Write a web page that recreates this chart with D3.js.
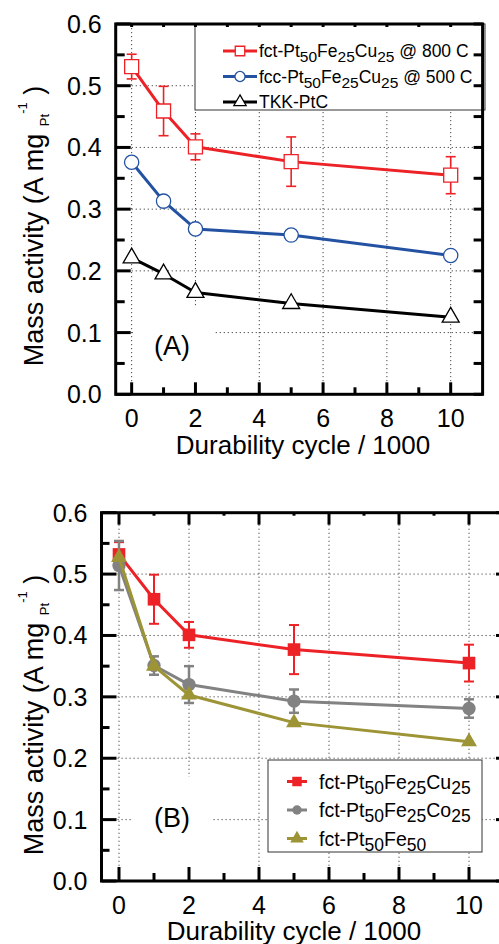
<!DOCTYPE html>
<html>
<head>
<meta charset="utf-8">
<script src="https://cdn.jsdelivr.net/npm/d3@7"></script>
<style>
body { margin: 0; background: #fff; }
svg { display: block; }
text { font-family: "Liberation Sans", Arial, sans-serif; fill: #000; }
</style>
</head>
<body>
<svg id="chart" width="499" height="944"></svg>
<script>
// durability cycles (x 1000)
var cycles = [0, 1, 2, 5, 10];
var xMajor = [0, 2, 4, 6, 8, 10],
    xMinor = [1, 3, 5, 7, 9];
var yMajor = [0, 0.1, 0.2, 0.3, 0.4, 0.5, 0.6],
    yMinor = [0.05, 0.15, 0.25, 0.35, 0.45, 0.55];

// panel A
var fctCu800 = [0.531, 0.459, 0.401, 0.377, 0.355],
    fctCu800Err = [0.020, 0.040, 0.021, 0.040, 0.030];
var fccCu500 = [0.376, 0.313, 0.268, 0.258, 0.225];
var tkkPtC = [0.221, 0.195, 0.165, 0.147, 0.125];

// panel B
var fctCu = [0.532, 0.459, 0.401, 0.377, 0.355],
    fctCuErr = [0.020, 0.040, 0.021, 0.040, 0.030];
var fctCo = [0.514, 0.351, 0.320, 0.293, 0.281],
    fctCoErr = [0.040, 0.015, 0.030, 0.019, 0.015];
var fctFe = [0.527, 0.350, 0.303, 0.258, 0.227];

var RED = '#ec2227', BLUE = '#2452a3', GRAY = '#828282', OLIVE = '#9d9436';

var svg = d3.select('#chart');

// text with _{sub} and ^{sup} pieces
function rich(sel, str, size, small, subDy, supDy) {
    var t = sel.append('text').style('font-size', size + 'px');
    var cur = 0;
    str.split(/(_\{[^}]*\}|\^\{[^}]*\})/).forEach(function (p) {
        if (!p) return;
        var want = 0, fs = size, txt = p;
        if (p[0] === '_') { want = subDy; fs = small; txt = p.slice(2, -1); }
        else if (p[0] === '^') { want = supDy; fs = small; txt = p.slice(2, -1); }
        t.append('tspan').attr('dy', want - cur).style('font-size', fs + 'px').text(txt);
        cur = want;
    });
    return t;
}

function marker(g, type, size, color, open) {
    var sym = {square: d3.symbolSquare, circle: d3.symbolCircle, triangle: d3.symbolTriangle}[type];
    return g.append('path')
        .attr('d', d3.symbol().type(sym).size(size))
        .attr('fill', open ? '#fff' : color)
        .attr('stroke', open ? color : 'none')
        .attr('stroke-width', 1.3);
}

function drawPanel(p) {
    var x = d3.scaleLinear().domain([-0.5, 11]).range([p.left, p.right]);
    var y = d3.scaleLinear().domain([0, 0.6]).range([p.bottom, p.top]);
    var g = svg.append('g');

    // dotted grid
    g.selectAll('.gx').data(xMajor).enter().append('line')
        .attr('x1', x).attr('x2', x).attr('y1', p.top).attr('y2', p.bottom)
        .attr('stroke', '#444').attr('stroke-width', 1).attr('stroke-dasharray', '1.2,2.8');
    g.selectAll('.gy').data(yMajor.slice(1, 6)).enter().append('line')
        .attr('x1', p.left).attr('x2', p.right).attr('y1', y).attr('y2', y)
        .attr('stroke', '#444').attr('stroke-width', 1).attr('stroke-dasharray', '1.2,2.8');

    // white patch behind the panel letter
    g.append('rect').attr('x', p.tagBox[0]).attr('y', p.tagBox[1])
        .attr('width', p.tagBox[2]).attr('height', p.tagBox[3]).attr('fill', '#fff');
    g.append('rect').attr('x', p.legBox[0]).attr('y', p.legBox[1])
        .attr('width', p.legBox[2]).attr('height', p.legBox[3])
        .attr('fill', '#fff').attr('stroke', '#333').attr('stroke-width', 1);

    var line = d3.line().x(function (d, i) { return x(cycles[i]); }).y(function (d) { return y(d); });

    p.series.forEach(function (s) {
        g.append('path').datum(s.values).attr('d', line)
            .attr('fill', 'none').attr('stroke', s.color).attr('stroke-width', 3)
            .attr('stroke-linejoin', 'round');
        if (s.err) {
            s.values.forEach(function (v, i) {
                var cx = x(cycles[i]), hi = y(v + s.err[i]), lo = y(v - s.err[i]);
                var eg = g.append('g').attr('stroke', s.color).attr('stroke-width', s.errW || 1.6);
                eg.append('line').attr('x1', cx).attr('x2', cx).attr('y1', hi).attr('y2', lo);
                eg.append('line').attr('x1', cx - 5).attr('x2', cx + 5).attr('y1', hi).attr('y2', hi);
                eg.append('line').attr('x1', cx - 5).attr('x2', cx + 5).attr('y1', lo).attr('y2', lo);
            });
        }
        s.values.forEach(function (v, i) {
            marker(g, s.shape, s.size, s.color, s.open)
                .attr('transform', 'translate(' + x(cycles[i]) + ',' + y(v) + ')');
        });
    });

    // frame and inward ticks
    var tk = g.append('g').attr('stroke', '#000').attr('stroke-width', 3);
    function ticks(vals, len, side) {
        vals.forEach(function (v) {
            if (side === 'bottom') tk.append('line').attr('x1', x(v)).attr('x2', x(v)).attr('y1', p.bottom).attr('y2', p.bottom - len);
            if (side === 'top') tk.append('line').attr('x1', x(v)).attr('x2', x(v)).attr('y1', p.top).attr('y2', p.top + len);
            if (side === 'left') tk.append('line').attr('y1', y(v)).attr('y2', y(v)).attr('x1', p.left).attr('x2', p.left + len);
            if (side === 'right') tk.append('line').attr('y1', y(v)).attr('y2', y(v)).attr('x1', p.right).attr('x2', p.right - len);
        });
    }
    ticks(xMajor, p.tick.bottom[0], 'bottom'); ticks(xMinor, p.tick.bottom[1], 'bottom');
    ticks(xMajor, p.tick.top[0], 'top'); ticks(xMinor, p.tick.top[1], 'top');
    ticks(yMajor, p.tick.left[0], 'left'); ticks(yMinor, p.tick.left[1], 'left');
    ticks(yMajor, p.tick.right[0], 'right'); ticks(yMinor, p.tick.right[1], 'right');
    g.append('rect').attr('x', p.left).attr('y', p.top)
        .attr('width', p.right - p.left).attr('height', p.bottom - p.top)
        .attr('fill', 'none').attr('stroke', '#000').attr('stroke-width', 3);

    // tick labels
    g.selectAll('.xl').data(xMajor).enter().append('text')
        .attr('x', x).attr('y', p.bottom + 33).attr('text-anchor', 'middle')
        .style('font-size', '25px').text(function (d) { return d; });
    g.selectAll('.yl').data(yMajor).enter().append('text')
        .attr('x', p.left - 14).attr('y', y).attr('dy', '0.36em').attr('text-anchor', 'end')
        .style('font-size', '25px').text(d3.format('.1f'));

    g.append('text').attr('x', p.xTitle[0]).attr('y', p.xTitle[1]).attr('text-anchor', 'middle')
        .style('font-size', '26px').text('Durability cycle / 1000');

    var yt = g.append('g').attr('transform', 'translate(' + p.yTitle[0] + ',' + p.yTitle[1] + ') rotate(-90)');
    rich(yt, 'Mass activity (A mg _{Pt}^{-1} )', 27, 13, 6, -16).attr('text-anchor', 'middle');

    g.append('text').attr('x', p.tag[0]).attr('y', p.tag[1]).attr('text-anchor', 'middle')
        .style('font-size', '27px').text(p.tagText);

    // legend rows
    p.series.forEach(function (s, i) {
        var ly = p.leg.y + i * p.leg.dy;
        g.append('line').attr('x1', p.leg.x0).attr('x2', p.leg.x1).attr('y1', ly).attr('y2', ly)
            .attr('stroke', s.color).attr('stroke-width', 3);
        marker(g, s.shape, s.legSize, s.color, s.open)
            .attr('transform', 'translate(' + (p.leg.x0 + p.leg.x1) / 2 + ',' + ly + ')');
        rich(g, s.name, p.leg.font, p.leg.sub, 5, 0)
            .attr('x', p.leg.tx).attr('y', ly + p.leg.base);
    });
}

drawPanel({
    left: 115.7, right: 482.6, top: 24, bottom: 394.3,
    tick: {bottom: [12, 7], top: [3, 3], left: [15, 9], right: [9, 9]},
    tagBox: [134, 308, 79, 84], tag: [172, 355], tagText: '(A)',
    legBox: [195, 24, 290, 86],
    leg: {x0: 223, x1: 257, tx: 259, y: 51, dy: 25.5, base: 6, font: 17.5, sub: 15.5},
    xTitle: [303, 454], yTitle: [43, 226],
    series: [
        {name: 'fct-Pt_{50}Fe_{25}Cu_{25} @ 800 C', values: fctCu800, err: fctCu800Err, color: RED, shape: 'square', size: 196, legSize: 90, open: true},
        {name: 'fcc-Pt_{50}Fe_{25}Cu_{25} @ 500 C', values: fccCu500, color: BLUE, shape: 'circle', size: 160, legSize: 80, open: true},
        {name: 'TKK-PtC', values: tkkPtC, color: '#000', shape: 'triangle', size: 125, legSize: 65, open: true}
    ]
});

drawPanel({
    left: 101.5, right: 504, top: 512.7, bottom: 881,
    tick: {bottom: [14, 8], top: [12, 3], left: [15, 8], right: [8, 3]},
    tagBox: [133, 777, 80, 102], tag: [172, 827], tagText: '(B)',
    legBox: [268, 760, 214, 92],
    leg: {x0: 287, x1: 307, tx: 319, y: 781.5, dy: 28.5, base: 7, font: 19.5, sub: 17.5},
    xTitle: [294, 940], yTitle: [43, 715],
    series: [
        {name: 'fct-Pt_{50}Fe_{25}Cu_{25}', values: fctCu, err: fctCuErr, errW: 2, color: RED, shape: 'square', size: 160, legSize: 90},
        {name: 'fct-Pt_{50}Fe_{25}Co_{25}', values: fctCo, err: fctCoErr, errW: 2.5, color: GRAY, shape: 'circle', size: 140, legSize: 70},
        {name: 'fct-Pt_{50}Fe_{50}', values: fctFe, color: OLIVE, shape: 'triangle', size: 110, legSize: 80}
    ]
});
</script>
</body>
</html>
